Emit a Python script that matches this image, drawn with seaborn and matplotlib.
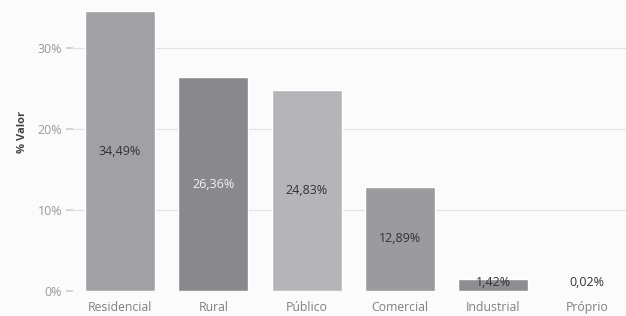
import matplotlib
matplotlib.use("Agg")
import matplotlib.pyplot as plt
import seaborn as sns
import pandas as pd

categories = ["Residencial", "Rural", "Público", "Comercial", "Industrial", "Próprio"]
values = [34.49, 26.36, 24.83, 12.89, 1.42, 0.02]
value_labels = ["34,49%", "26,36%", "24,83%", "12,89%", "1,42%", "0,02%"]
bar_colors = ["#a1a1a5", "#89898d", "#b5b5b9", "#9b9b9f", "#8e8e92", "#a8a8ac"]
label_colors = ["#333333", "#f2f2f2", "#333333", "#333333", "#333333", "#333333"]
yticks = [0, 10, 20, 30]
ytick_labels = ["0%", "10%", "20%", "30%"]

sns.set_theme(style="white")
plt.rcParams["font.family"] = ["Open Sans", "DejaVu Sans"]

df = pd.DataFrame({"cat": categories, "val": values})

fig = plt.figure(figsize=(6.26, 3.16), dpi=100)
fig.patch.set_facecolor("#fbfbfb")
ax = fig.add_axes([73.3 / 626, 25 / 316, (626 - 73.3) / 626, 291 / 316])
ax.set_facecolor("#fbfbfb")

sns.barplot(data=df, x="cat", y="val", hue="cat", palette=bar_colors,
            width=0.75, legend=False, ax=ax, saturation=1)

ax.set_xlim(-0.5, 5.42)
ax.set_ylim(0, 35.9)
ax.set_yticks(yticks)
ax.set_yticklabels(ytick_labels)
for y in yticks[1:]:
    ax.axhline(y, color="#e2e2e2", lw=0.8, zorder=0)
ax.set_axisbelow(True)

for s in ax.spines.values():
    s.set_visible(False)

ax.tick_params(axis="y", length=5, color="#d0d0d0", labelsize=9, labelcolor="#9a9a9a", pad=3, left=True)
ax.tick_params(axis="x", length=0, labelsize=8.8, labelcolor="#808080", pad=7)
ax.set_xlabel("")
ax.set_ylabel("% Valor", fontsize=8, fontweight="bold", color="#444444", va="center", ha="center")
ax.yaxis.set_label_coords(-0.092, 0.546)

for i, (v, lab, c) in enumerate(zip(values, value_labels, label_colors)):
    ypos = max(v / 2, 1.1)
    ax.text(i, ypos, lab, ha="center", va="center", fontsize=9, color=c)

fig.savefig("out.png", dpi=100, facecolor=fig.get_facecolor())
